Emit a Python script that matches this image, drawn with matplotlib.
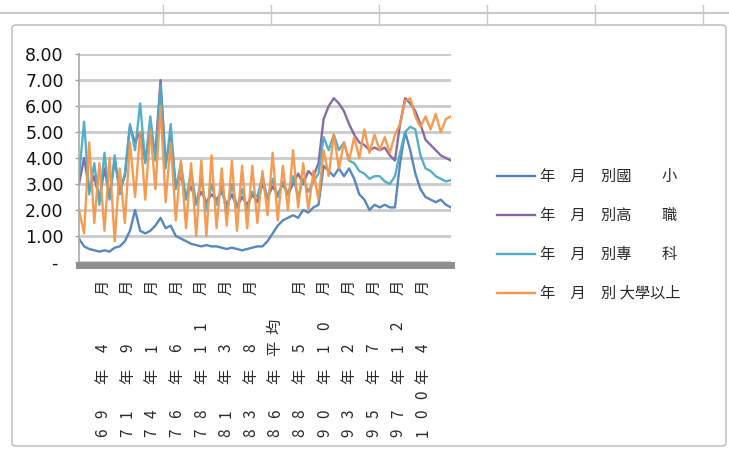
import numpy as np
import matplotlib
matplotlib.use("Agg")
import matplotlib.pyplot as plt
from matplotlib import transforms
from matplotlib.lines import Line2D
from matplotlib.patches import FancyBboxPatch

plt.rcParams['font.family'] = ['Noto Sans CJK TC', 'DejaVu Sans']

# series names (legend)
series_names = ["年　月　別國　　小", "年　月　別高　　職", "年　月　別專　　科", "年　月　別 大學以上"]
series_colors = ["#4F81BD", "#8064A2", "#4BACC6", "#F79646"]

# category labels shown on the x axis
tick_labels = ["69年4月", "71年9月", "74年1月", "76年6月", "78年11月", "81年3月", "83年8月",
               "86年平均", "88年5月", "90年10月", "93年2月", "95年7月", "97年12月", "100年4月"]

# values (one point every ~6 categories)
primary = [0.9, 0.6, 0.5, 0.45, 0.4, 0.45, 0.4, 0.55, 0.6, 0.8,
           1.2, 2.0, 1.2, 1.1, 1.2, 1.4, 1.7, 1.3, 1.4, 1.0,
           0.9, 0.8, 0.7, 0.65, 0.6, 0.65, 0.6, 0.6, 0.55, 0.5,
           0.55, 0.5, 0.45, 0.5, 0.55, 0.6, 0.6, 0.8, 1.1, 1.4,
           1.6, 1.7, 1.8, 1.7, 2.0, 1.9, 2.1, 2.2, 3.7, 3.5,
           3.3, 3.6, 3.3, 3.6, 3.2, 2.6, 2.4, 2.0, 2.2, 2.1,
           2.2, 2.1, 2.1, 3.8, 5.0, 4.3, 3.4, 2.8, 2.5, 2.4,
           2.3, 2.4, 2.2, 2.1]
vocational = [3.0, 4.0, 2.8, 3.3, 2.4, 3.6, 2.5, 3.9, 2.8, 3.3,
              5.2, 4.6, 5.0, 3.9, 5.0, 4.2, 7.0, 3.8, 4.8, 2.9,
              3.3, 2.5, 2.9, 2.3, 2.7, 2.3, 2.6, 2.4, 2.7, 2.2,
              2.6, 2.1, 2.5, 2.2, 2.6, 2.3, 3.0, 2.5, 2.9, 2.6,
              3.0, 2.6, 3.0, 3.4, 3.0, 3.5, 3.3, 3.8, 5.5, 6.0,
              6.3, 6.1, 5.8, 5.3, 4.9, 4.6, 4.5, 4.3, 4.4, 4.3,
              4.4, 4.1, 3.9, 5.3, 6.3, 6.1, 5.8, 5.3, 4.7, 4.5,
              4.3, 4.1, 4.0, 3.9]
college = [3.3, 5.4, 2.6, 3.8, 2.2, 4.2, 2.4, 4.1, 2.6, 3.4,
           5.3, 4.3, 6.1, 3.8, 5.6, 3.9, 6.8, 3.6, 5.3, 2.8,
           3.8, 2.4, 3.5, 2.2, 3.2, 2.0, 3.0, 2.2, 2.9, 1.9,
           3.0, 2.1, 2.8, 2.0, 2.7, 2.5, 3.3, 2.4, 3.2, 2.5,
           3.1, 2.6, 3.3, 2.5, 3.2, 2.7, 3.1, 3.4, 4.8, 4.3,
           4.9, 4.3, 4.6, 3.9, 3.8, 3.5, 3.4, 3.2, 3.3, 3.3,
           3.1, 3.0, 3.3, 4.2, 5.0, 5.2, 5.1, 4.1, 3.6, 3.5,
           3.3, 3.2, 3.1, 3.15]
university = [2.0, 1.1, 4.6, 1.5, 3.8, 1.2, 4.0, 0.8, 3.6, 1.5,
              4.6, 2.5, 5.0, 2.4, 5.1, 2.8, 6.0, 2.3, 4.6, 1.6,
              3.9, 1.3, 3.8, 1.0, 3.9, 1.0, 4.1, 1.3, 3.6, 1.4,
              3.9, 1.2, 3.7, 1.3, 3.7, 1.5, 3.5, 1.8, 4.2, 1.6,
              3.7, 2.0, 4.3, 2.1, 3.8, 2.0, 3.5, 2.4, 4.3, 3.3,
              4.9, 3.6, 4.6, 3.9, 4.8, 4.0, 5.1, 4.2, 4.9, 4.3,
              4.8, 4.2, 4.9, 5.3, 6.2, 6.3, 5.6, 5.2, 5.6, 5.1,
              5.7, 5.0, 5.5, 5.6]
series = [primary, vocational, college, university]

W, H = 729, 450
fig = plt.figure(figsize=(W / 100, H / 100), dpi=100)

def fx(px):
    return px / W

def fy(py):
    return 1 - py / H

# spreadsheet cell lines above the chart
fig.add_artist(Line2D([0, 1], [fy(13), fy(13)], color="#C8C8C8", lw=1.5))
for cx in [163, 271, 379, 487, 595, 703]:
    fig.add_artist(Line2D([fx(cx), fx(cx)], [fy(5), fy(25)], color="#C8C8C8", lw=1))

# chart area border
fig.add_artist(FancyBboxPatch((fx(12), fy(446)), fx(714), 421 / H,
                              boxstyle="round,pad=0,rounding_size=0.006",
                              transform=fig.transFigure, fc="none", ec="#B8B8B8", lw=1))

ax = fig.add_axes([fx(79), fy(262), fx(372), 208 / H])
ax.set_facecolor("none")

x = np.arange(len(primary)) * 6
for vals, col in zip(series, series_colors):
    ax.plot(x, vals, color=col, lw=1.7, alpha=0.95)

ax.set_xlim(0, 438)
ax.set_ylim(0, 8)
ax.set_yticks(range(9))
ax.set_yticklabels(["- "] + [f"{v:.2f}" for v in range(1, 9)],
                   fontfamily="DejaVu Sans", fontsize=12.5, color="#111111")
ax.yaxis.grid(True, color="#CACACA", lw=2)
ax.set_axisbelow(True)
ax.tick_params(axis="y", length=3, width=1, color="#A0A0A0", pad=8)
ax.set_xticks([])

for s in ["top", "right"]:
    ax.spines[s].set_visible(False)
ax.spines["left"].set_color("#A8A8A8")
ax.spines["left"].set_linewidth(1.2)
ax.spines["bottom"].set_color("#8E8E8E")
ax.spines["bottom"].set_linewidth(5)
ax.spines["bottom"].set_position(("outward", 2.5))

# rotated category labels, one character at a time
trans = transforms.blended_transform_factory(ax.transData, fig.transFigure)
tick_pos = 28 + 29 * np.arange(len(tick_labels))
char_kw = dict(rotation=90, ha="center", va="center",
               fontsize=11, color="#2A2A2A", transform=trans)
for pos, lab in zip(tick_pos, tick_labels):
    year, rest = lab.split("年")
    slots = [(433 - 19 * j, ch) for j, ch in enumerate(year)]
    slots.append((376, "年"))
    if rest.endswith("月"):
        slots.append((287, "月"))
        rest = rest[:-1]
    slots += [(348 - 22 * j, ch) for j, ch in enumerate(rest)]
    for py, ch in slots:
        ax.text(float(pos), fy(py), ch, clip_on=False, **char_kw)

# legend
for k, (name, col) in enumerate(zip(series_names, series_colors)):
    yy = fy(176 + 39 * k)
    fig.add_artist(Line2D([fx(497), fx(535)], [yy, yy], color=col, lw=1.7))
    fig.text(fx(540), yy, name, fontsize=11, color="#2A2A2A", va="center", ha="left")

fig.savefig("out.png", dpi=100)
